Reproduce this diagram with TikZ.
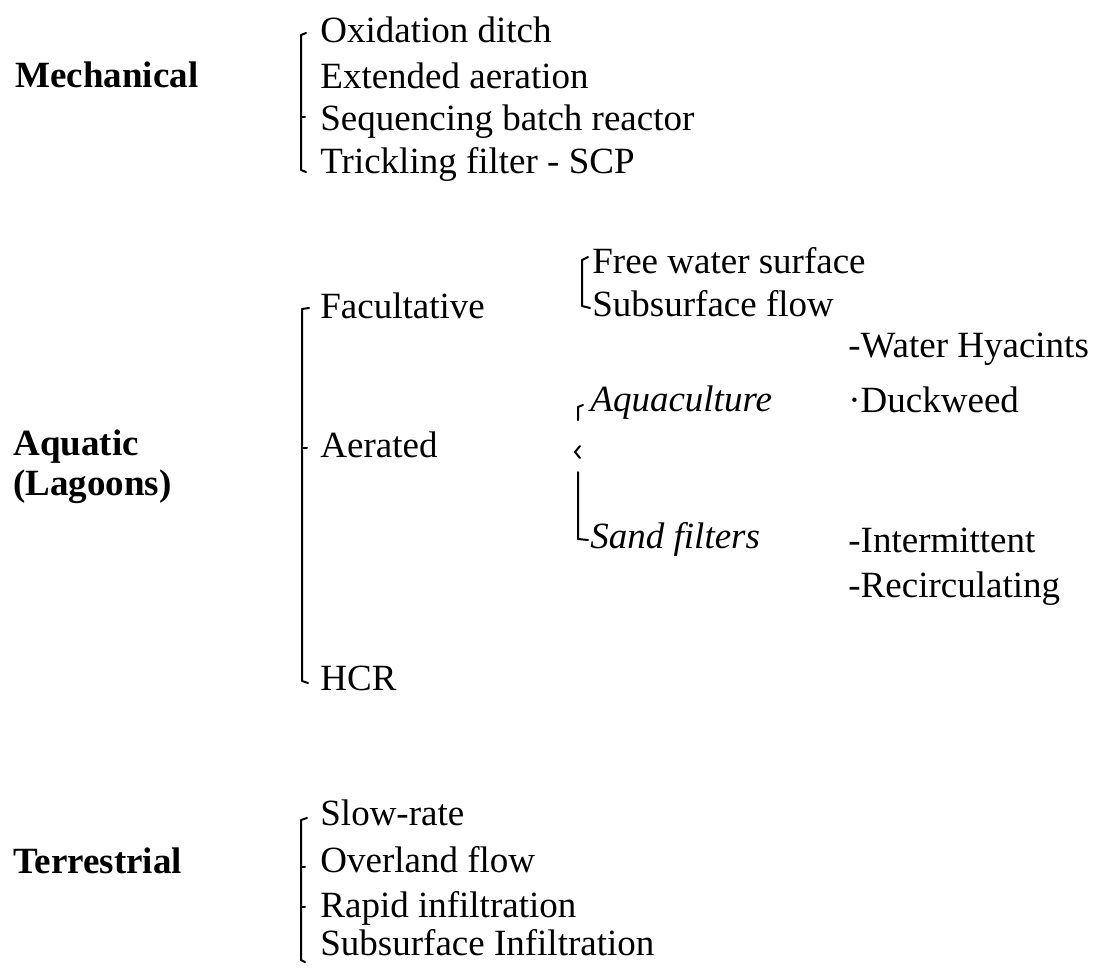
\documentclass[tikz,border=0pt]{standalone}
\usepackage{fontspec}
\setmainfont{Liberation Serif}
\usetikzlibrary{positioning}

\begin{document}
\begin{tikzpicture}[
  x=0.5pt, y=-0.5pt,
  font=\fontsize{18.5}{20}\selectfont,
  item/.style={anchor=base west, inner sep=0pt},
  group/.style={item, font=\fontsize{18.5}{20}\selectfont\bfseries},
  sub/.style={item, font=\fontsize{18.5}{20}\selectfont\itshape},
  brk/.style={line width=1pt, line cap=round, line join=round},
]
\useasboundingbox (0,0) rectangle (1110,970);

% Mechanical
\node[group] (mech) at (15,87) {Mechanical};
\node[item] (oxid) at (320,42) {Oxidation ditch};
\node[item] (ext) at (320,88) {Extended aeration};
\node[item] (sbr) at (320,130) {Sequencing batch reactor};
\node[item] (trick) at (320,173) {Trickling filter - SCP};
\draw[brk] (306,33) -- (301,35) -- (301,170) -- (306,172);
\draw[brk] (301,117) -- (305,117);

% Aquatic (Lagoons)
\node[group] (aqua) at (13,455) {Aquatic};
\node[group] (lagoons) at (13,495) {(Lagoons)};
\node[item] (fac) at (320,318) {Facultative};
\node[item] (aer) at (320,457) {Aerated};
\node[item] (hcr) at (320,690) {HCR};
\draw[brk] (309,308) -- (302,309) -- (302,681) -- (308,683);
\draw[brk] (302,448) -- (307,448);

% wetlands
\node[item] (fws) at (592,273) {Free water surface};
\node[item] (ssf) at (592,316) {Subsurface flow};
\draw[brk] (588,257) -- (582,260) -- (582,306) -- (590,308);

% aquaculture and sand filters
\node[sub] (aquac) at (590,411) {Aquaculture};
\node[sub] (sand) at (590,548) {Sand filters};
\draw[brk] (583,405) -- (578,407) -- (578,420);
\draw[brk] (580,446) -- (575,452) -- (580,458);
\draw[brk] (578,472) -- (578,539) -- (588,540);
\node[item] (hyac) at (848,357) {-Water Hyacints};
\node[item] (duck) at (848,412) {·Duckweed};
\node[item] (inter) at (848,552) {-Intermittent};
\node[item] (recirc) at (848,597) {-Recirculating};

% Terrestrial
\node[group] (terr) at (13,873) {Terrestrial};
\node[item] (slow) at (320,825) {Slow-rate};
\node[item] (over) at (320,872) {Overland flow};
\node[item] (rapid) at (320,917) {Rapid infiltration};
\node[item] (subinf) at (320,955) {Subsurface Infiltration};
\draw[brk] (307,818) -- (301,820) -- (301,960) -- (305,962);
\foreach \ty in {867,907} \draw[brk] (301,\ty) -- (305,\ty);
\end{tikzpicture}
\end{document}
